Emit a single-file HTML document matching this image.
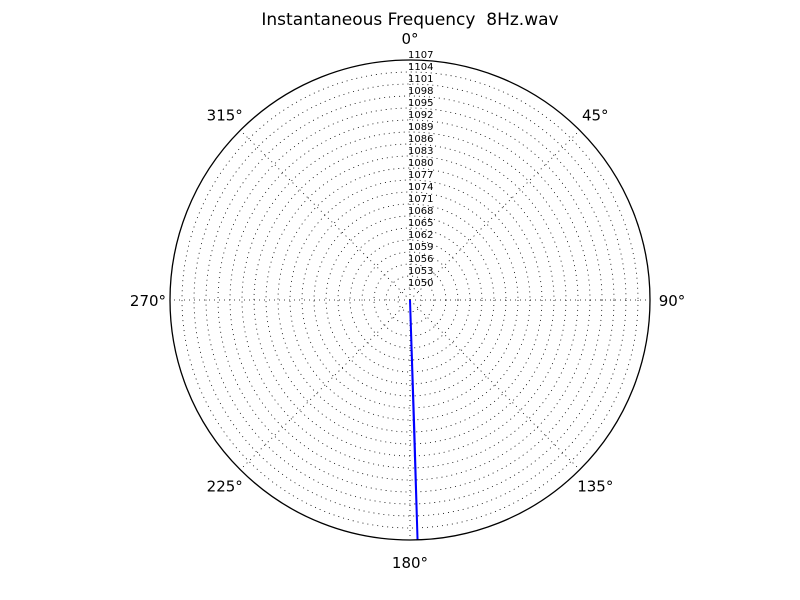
<!DOCTYPE html>
<html><head><meta charset="utf-8"><style>
body{margin:0;background:#fff;}
svg{display:block;font-family:"DejaVu Sans","Liberation Sans",sans-serif;}
</style></head><body>
<svg id="chart" width="800" height="600" viewBox="0 0 800 600">
<rect width="800" height="600" fill="#fff"/>
<text x="410" y="25" font-size="17" text-anchor="middle" xml:space="preserve" style="white-space:pre">Instantaneous Frequency  8Hz.wav</text>
<g id="grid"></g>
<g id="series"></g>
<circle cx="410" cy="300" r="240" fill="none" stroke="#000" stroke-width="1.3"/>
</svg>
<script>
const ringValues=[1050,1053,1056,1059,1062,1065,1068,1071,1074,1077,1080,1083,1086,1089,1092,1095,1098,1101,1104,1107];
const angleTicks=[0,45,90,135,180,225,270,315];
const seriesTheta=[178.1,178.1,178.2,178.0];
const seriesR=[1047,1080,1107,1047];
const rMin=1047,rMax=1107;
const cx=410,cy=300,R=240;
const NS="http://www.w3.org/2000/svg";
function rad(v){return (v-rMin)/(rMax-rMin)*R;}
function pt(th,v){const a=th*Math.PI/180;const r=rad(v);return [cx+r*Math.sin(a),cy-r*Math.cos(a)];}
const grid=document.getElementById('grid');
ringValues.forEach(v=>{
 if(v<rMax){
  const c=document.createElementNS(NS,'circle');
  c.setAttribute('cx',cx);c.setAttribute('cy',cy);c.setAttribute('r',rad(v));
  c.setAttribute('fill','none');c.setAttribute('stroke','#000');c.setAttribute('stroke-width','0.8');c.setAttribute('stroke-dasharray','1,4');
  
  
  grid.appendChild(c);
 }
 const t=document.createElementNS(NS,'text');
 t.setAttribute('x',cx-2);t.setAttribute('y',cy-rad(v)-2);t.setAttribute('font-size','10');
 t.textContent=v;
 
 
 grid.appendChild(t);
});
angleTicks.forEach(a=>{
 const p=pt(a,rMax);
 const l=document.createElementNS(NS,'line');
 l.setAttribute('x1',cx);l.setAttribute('y1',cy);l.setAttribute('x2',p[0]);l.setAttribute('y2',p[1]);
 l.setAttribute('stroke','#000');l.setAttribute('stroke-width','0.8');l.setAttribute('stroke-dasharray','1,4');
 
 
 grid.appendChild(l);
 const ar=a*Math.PI/180,lr=R+22;
 const t=document.createElementNS(NS,'text');
 t.setAttribute('x',cx+lr*Math.sin(ar));t.setAttribute('y',cy-lr*Math.cos(ar)+6);
 t.setAttribute('font-size','15');t.setAttribute('text-anchor','middle');
 t.textContent=a+'°';
 
 
 grid.appendChild(t);
});
const s=document.getElementById('series');
const pts=seriesTheta.map((th,i)=>pt(th,seriesR[i]).join(',')).join(' ');
const pl=document.createElementNS(NS,'polyline');
pl.setAttribute('points',pts);pl.setAttribute('fill','none');pl.setAttribute('stroke','#0000ff');pl.setAttribute('stroke-width','2');


s.appendChild(pl);
</script>
</body></html>
